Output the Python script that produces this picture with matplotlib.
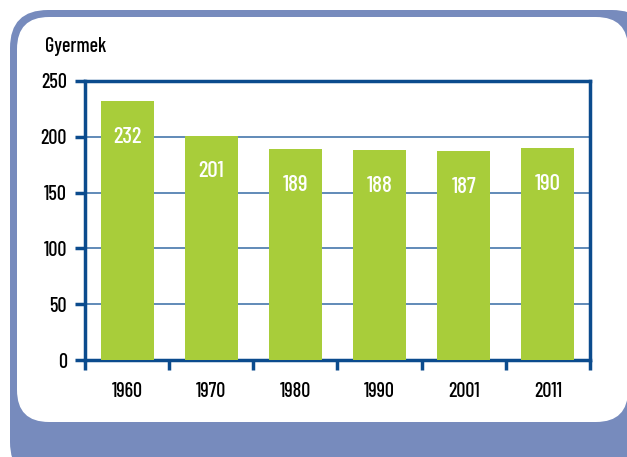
import matplotlib
matplotlib.use('Agg')
import matplotlib.pyplot as plt
from matplotlib.patches import FancyBboxPatch
import numpy as np

years = ['1960', '1970', '1980', '1990', '2001', '2011']
values = [232, 201, 189, 188, 187, 190]
y_ticks = [0, 50, 100, 150, 200, 250]

green = '#a8cd3a'
frame_c = '#778bbd'
spine_c = '#0b4b8d'
grid_c = '#4677ab'
font = ['Barlow Condensed', 'DejaVu Sans']
fw = 'medium'

W, H = 627, 457
fig = plt.figure(figsize=(W / 100, H / 100), dpi=100)

# background frame drawn in pixel coordinates
bg = fig.add_axes([0, 0, 1, 1])
bg.set_xlim(0, W)
bg.set_ylim(H, 0)
bg.axis('off')
bg.add_patch(FancyBboxPatch((10, 10), 640, 470, boxstyle='round,pad=0,rounding_size=38',
                            fc=frame_c, ec='none'))
bg.add_patch(FancyBboxPatch((17, 17), 611, 405, boxstyle='round,pad=0,rounding_size=32',
                            fc='white', ec='none'))

ax = fig.add_axes([85 / W, 1 - 360 / H, 505 / W, 279 / H])
ax.set_facecolor('none')
x = np.arange(len(years))
ax.bar(x, values, width=0.63, color=green, zorder=3)
for xi, v in zip(x, values):
    ax.text(xi, v - 32, str(v), ha='center', va='center', color='white',
            fontsize=16.5, family=font, weight=fw, zorder=4)

ax.set_xlim(-0.5, len(years) - 0.5)
ax.set_ylim(0, 250)
ax.set_yticks(y_ticks)
ax.set_yticklabels([str(t) for t in y_ticks], family=font, fontsize=14.5, weight=fw)
ax.set_xticks(x)
ax.set_xticklabels(years, family=font, fontsize=14.5, weight=fw)
ax.set_xticks(np.arange(-0.5, len(years)), minor=True)
ax.tick_params(axis='x', which='major', length=0, pad=16)
ax.tick_params(axis='x', which='minor', length=7, width=2.5, color=spine_c)
ax.tick_params(axis='y', length=7, width=2.5, color=spine_c, pad=6)
for s in ax.spines.values():
    s.set_color(spine_c)
    s.set_linewidth(2.5)
ax.yaxis.grid(True, color=grid_c, lw=1.2, zorder=1)
ax.set_axisbelow(True)

fig.text(45 / W, 1 - 47 / H, 'Gyermek', ha='left', va='center', fontsize=14.5,
         family=font, weight=fw)

fig.savefig('out.png', dpi=100)
